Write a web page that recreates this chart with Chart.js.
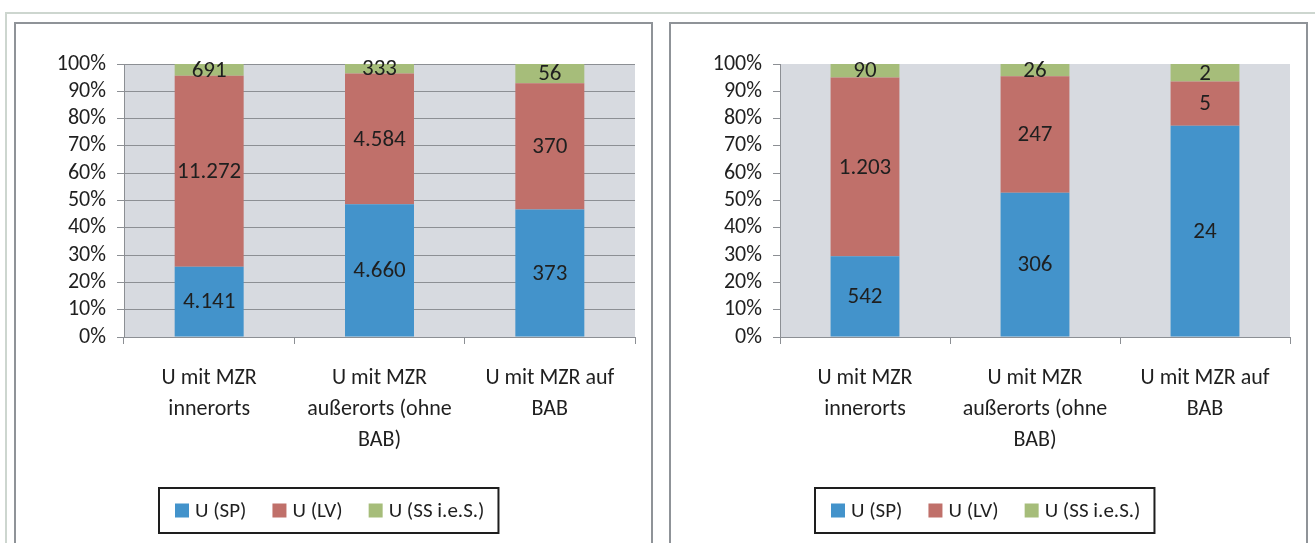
<!DOCTYPE html>
<html>
<head>
<meta charset="utf-8">
<script src="https://cdn.jsdelivr.net/npm/chart.js@4.4.0/dist/chart.umd.min.js"></script>
<style>
  body { margin: 0; background: #fff; width: 1315px; height: 543px; overflow: hidden; position: relative; }
  .frame { position: absolute; left: 5px; top: 12px; width: 1320px; height: 600px;
           border-top: 2px solid #cdd6cf; border-left: 2px solid #cdd6cf; }
  .box { position: absolute; top: 22px; width: 635px; height: 600px; border: 2px solid #8f9398; }
  canvas { position: absolute; }
</style>
</head>
<body>
<div class="frame"></div>
<div class="box" style="left:14px"></div>
<div class="box" style="left:669px"></div>
<canvas id="chartLeft" width="634" height="519" style="left:16px;top:24px"></canvas>
<canvas id="chartRight" width="635" height="519" style="left:671px;top:24px"></canvas>
<script>
// categories and series
const categories = [
  ['U mit MZR', 'innerorts'],
  ['U mit MZR', 'außerorts (ohne', 'BAB)'],
  ['U mit MZR auf', 'BAB']
];
const seriesNames = ['U (SP)', 'U (LV)', 'U (SS i.e.S.)'];
const seriesColors = ['#4393cb', '#c0706a', '#a6bd7a'];

// left chart (counts, shown as 100% stacked)
const leftSP = [4141, 4660, 373];
const leftLV = [11272, 4584, 370];
const leftSS = [691, 333, 56];

// right chart
const rightSP = [542, 306, 24];
const rightLV = [1203, 247, 5];
const rightSS = [90, 26, 2];

const FONT = "Carlito, Lato, 'Liberation Sans', sans-serif";
const TEXT = '#1f1f1f';
const AXIS = '#8c8f94';

// 12345 -> "12.345"
const fmt = n => String(n).replace(/\B(?=(\d{3})+(?!\d))/g, '.');

const plotBg = {
  id: 'plotBg',
  beforeDraw(chart) {
    const a = chart.chartArea, ctx = chart.ctx;
    ctx.save();
    ctx.fillStyle = '#d7dae0';
    ctx.fillRect(a.left, a.top, a.right - a.left, a.bottom - a.top);
    ctx.restore();
  }
};

const valueLabels = {
  id: 'valueLabels',
  afterDatasetsDraw(chart) {
    const ctx = chart.ctx;
    ctx.save();
    ctx.font = '23px ' + FONT;
    ctx.fillStyle = TEXT;
    ctx.textAlign = 'center';
    ctx.textBaseline = 'middle';
    chart.data.datasets.forEach((ds, i) => {
      chart.getDatasetMeta(i).data.forEach((bar, j) => {
        ctx.fillText(fmt(ds.counts[j]), bar.x, (bar.y + bar.base) / 2 + 1);
      });
    });
    ctx.restore();
  }
};

// legend with a black frame, like the original
const boxedLegend = {
  id: 'boxedLegend',
  afterDraw(chart) {
    const ctx = chart.ctx;
    ctx.save();
    ctx.font = '21px ' + FONT;
    const items = chart.data.datasets.map(ds => ({ text: ds.label, color: ds.backgroundColor, w: ctx.measureText(ds.label).width }));
    const sq = 14, gapText = 6, gapItem = 26, padL = 16, padR = 14;
    let total = padL + padR;
    items.forEach((it, i) => { total += sq + gapText + it.w + (i < items.length - 1 ? gapItem : 0); });
    const left = Math.round(chart.width / 2 - 4 - total / 2);
    const top = 464, h = 45;
    ctx.strokeStyle = '#1e1e1e';
    ctx.lineWidth = 2;
    ctx.strokeRect(left, top, total, h);
    let x = left + padL;
    const cy = top + h / 2;
    ctx.textBaseline = 'middle';
    ctx.textAlign = 'left';
    items.forEach(it => {
      ctx.fillStyle = it.color;
      ctx.fillRect(x, cy - sq / 2, sq, sq);
      ctx.fillStyle = TEXT;
      ctx.fillText(it.text, x + sq + gapText, cy + 1);
      x += sq + gapText + it.w + gapItem;
    });
    ctx.restore();
  }
};

function makeChart(id, sp, lv, ss, gridLines, rightPad, yWidth) {
  const totals = sp.map((v, i) => v + lv[i] + ss[i]);
  const series = [sp, lv, ss];
  const datasets = series.map((counts, k) => ({
    label: seriesNames[k],
    data: counts.map((v, i) => v / totals[i] * 100),
    counts: counts,
    backgroundColor: seriesColors[k],
    borderWidth: 0,
    categoryPercentage: 1,
    barPercentage: 0.405
  }));

  return new Chart(document.getElementById(id), {
    type: 'bar',
    data: { labels: categories, datasets },
    options: {
      responsive: false,
      animation: false,
      layout: { padding: { top: 40, right: rightPad, left: 0, bottom: 0 } },
      plugins: { legend: { display: false }, tooltip: { enabled: false } },
      scales: {
        x: {
          stacked: true,
          afterFit: s => { s.height = 206; },
          grid: { drawOnChartArea: false, tickLength: 7, color: AXIS, offset: true },
          border: { color: AXIS, width: 1 },
          ticks: { color: TEXT, padding: 19, font: { family: FONT, size: 22, lineHeight: 1.41 }, maxRotation: 0 }
        },
        y: {
          stacked: true,
          min: 0,
          max: 100,
          afterFit: s => { s.width = yWidth; },
          grid: { drawOnChartArea: gridLines, tickLength: 7, color: AXIS, lineWidth: 1 },
          border: { color: AXIS, width: 1 },
          ticks: { stepSize: 10, autoSkip: false, color: TEXT, padding: 11, font: { family: FONT, size: 22, lineHeight: 1 }, callback: v => v + '%' }
        }
      }
    },
    plugins: [plotBg, valueLabels, boxedLegend]
  });
}

makeChart('chartLeft', leftSP, leftLV, leftSS, true, 15, 108);
makeChart('chartRight', rightSP, rightLV, rightSS, false, 16, 109);
</script>
</body>
</html>
